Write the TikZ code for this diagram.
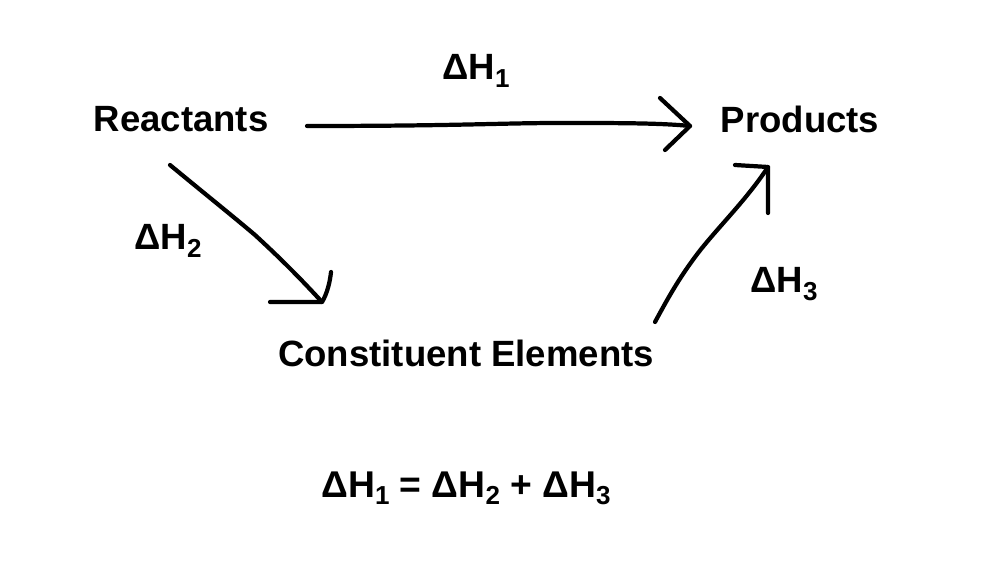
\documentclass[tikz,border=0pt]{standalone}
\usepackage{fontspec}
\setmainfont{Liberation Sans}
\usetikzlibrary{positioning}
\newcommand{\dH}[1]{ΔH\raisebox{-2.2pt}{\fontsize{7.4}{8}\selectfont #1}}

\begin{document}
\begin{tikzpicture}[font=\fontsize{10.4}{12}\selectfont\bfseries,
  pen/.style={line width=1.2pt,line cap=round,line join=round},
  lbl/.style={inner sep=0pt}]
\useasboundingbox (0,0) rectangle (9.88,5.60);
% species
\node[lbl] (react) at (1.81,4.41) {Reactants};
\node[lbl] (prod) at (8.00,4.41) {Products};
\node[lbl] (elem) at (4.66,2.07) {Constituent Elements};
% enthalpy labels
\node[lbl,anchor=base] (h1) at (4.76,4.80) {\dH{1}};
\node[lbl,anchor=base] (h2) at (1.68,3.10) {\dH{2}};
\node[lbl,anchor=base] (h3) at (7.84,2.67) {\dH{3}};
\node[lbl,anchor=base,font=\fontsize{10.6}{12}\selectfont\bfseries] (hess) at (4.66,0.63) {\dH{1} = \dH{2} + \dH{3}};
% hand drawn arrows
\coordinate (s1) at (3.07,4.34);
\coordinate (t1) at (6.90,4.34);
\coordinate (s2) at (1.70,3.95);
\coordinate (t2) at (3.22,2.58);
\coordinate (s3) at (6.55,2.38);
\coordinate (t3) at (7.68,3.93);
\draw[pen] (s1)
  .. controls (4.6,4.34) and (5.0,4.37) .. (5.6,4.37)
  .. controls (6.2,4.37) and (6.6,4.37) .. (t1);
\draw[pen] (6.60,4.62) -- (t1) -- (6.65,4.10);
\draw[pen] (s2)
  .. controls (2.10,3.62) and (2.35,3.42) .. (2.55,3.25)
  .. controls (2.80,3.02) and (3.00,2.82) .. (t2);
\draw[pen] (2.70,2.58) -- (t2) .. controls (3.27,2.66) and (3.30,2.78) .. (3.31,2.88);
\draw[pen] (s3)
  .. controls (6.68,2.62) and (6.78,2.80) .. (6.95,3.03)
  .. controls (7.15,3.30) and (7.45,3.58) .. (t3);
\draw[pen] (7.35,3.95) -- (t3) -- (7.68,3.47);
\end{tikzpicture}
\end{document}
